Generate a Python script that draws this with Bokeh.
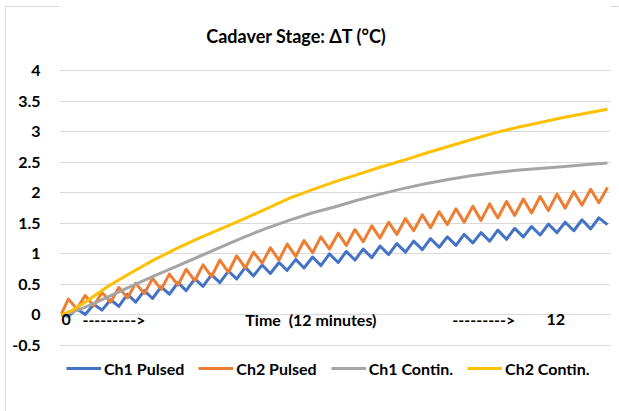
from bokeh.plotting import figure
from bokeh.models import FixedTicker, Label, Legend, LegendItem, Range1d
from bokeh.embed import file_html
from bokeh.resources import INLINE

# ---- data (time in minutes, values in °C) ----
pulse_t = [0.00, 0.15, 0.34, 0.52, 0.71, 0.89, 1.08, 1.26, 1.45, 1.63, 1.82, 2.00, 2.19, 2.37,
           2.56, 2.74, 2.93, 3.11, 3.30, 3.48, 3.67, 3.85, 4.04, 4.22, 4.41, 4.59, 4.78, 4.96,
           5.15, 5.33, 5.52, 5.70, 5.89, 6.08, 6.26, 6.45, 6.63, 6.82, 7.00, 7.19, 7.37, 7.56,
           7.74, 7.93, 8.11, 8.30, 8.48, 8.67, 8.85, 9.04, 9.22, 9.41, 9.59, 9.78, 9.96, 10.15,
           10.33, 10.52, 10.70, 10.89, 11.07, 11.26, 11.44, 11.63, 11.81, 12.00]

ch1_pulsed = [0.00, -0.02, 0.10, 0.01, 0.17, 0.08, 0.25, 0.14, 0.34, 0.21, 0.40, 0.27, 0.46,
              0.34, 0.53, 0.40, 0.59, 0.47, 0.66, 0.53, 0.72, 0.59, 0.78, 0.64, 0.82, 0.68,
              0.86, 0.73, 0.91, 0.77, 0.95, 0.81, 1.00, 0.86, 1.04, 0.90, 1.08, 0.94, 1.13,
              0.99, 1.17, 1.03, 1.21, 1.07, 1.25, 1.11, 1.28, 1.14, 1.32, 1.18, 1.35, 1.21,
              1.39, 1.24, 1.42, 1.28, 1.45, 1.31, 1.49, 1.35, 1.52, 1.38, 1.56, 1.41, 1.59, 1.48]

ch2_pulsed = [0.02, 0.26, 0.10, 0.32, 0.15, 0.37, 0.21, 0.45, 0.28, 0.52, 0.35, 0.60, 0.42,
              0.67, 0.49, 0.75, 0.56, 0.82, 0.63, 0.90, 0.70, 0.97, 0.77, 1.03, 0.85, 1.10,
              0.90, 1.16, 0.96, 1.22, 1.02, 1.28, 1.08, 1.34, 1.14, 1.40, 1.20, 1.46, 1.26,
              1.52, 1.32, 1.58, 1.38, 1.64, 1.43, 1.69, 1.48, 1.74, 1.52, 1.78, 1.55, 1.82,
              1.59, 1.86, 1.63, 1.90, 1.67, 1.94, 1.71, 1.98, 1.75, 2.02, 1.80, 2.06, 1.84, 2.09]

contin_t = [0, 0.25, 0.5, 1, 1.5, 2, 2.5, 3, 3.5, 4, 4.5, 5, 5.5, 6, 6.5, 7, 7.5, 8, 8.5, 9,
            9.5, 10, 10.5, 11, 11.5, 12]
ch1_contin = [0.00, 0.05, 0.12, 0.29, 0.46, 0.63, 0.79, 0.95, 1.11, 1.27, 1.42, 1.55, 1.67,
              1.77, 1.88, 1.98, 2.07, 2.15, 2.22, 2.28, 2.33, 2.37, 2.40, 2.43, 2.46, 2.49]
ch2_contin = [0.00, 0.08, 0.20, 0.46, 0.68, 0.89, 1.08, 1.25, 1.41, 1.57, 1.74, 1.91, 2.05,
              2.18, 2.30, 2.42, 2.53, 2.65, 2.76, 2.87, 2.98, 3.07, 3.15, 3.23, 3.30, 3.37]

series_names = ["Ch1 Pulsed", "Ch2 Pulsed", "Ch1 Contin.", "Ch2 Contin."]
series_colors = ["#4472C4", "#ED7D31", "#A5A5A5", "#FFC000"]

y_ticks = [-0.5, 0, 0.5, 1, 1.5, 2, 2.5, 3, 3.5, 4]
y_tick_labels = ["-0.5", "0", "0.5", "1", "1.5", "2", "2.5", "3", "3.5", "4"]

title_text = "Cadaver Stage: \u0394T (\u00b0C)"
x_texts = ["0", "--------->", "Time\u00a0 (12 minutes)", "--------->", "12"]
x_text_pos = [0.0, 0.46, 4.04, 8.59, 10.66]

FONT = "Lato"

p = figure(width=619, height=411, output_backend="svg", toolbar_location=None,
           x_range=Range1d(-0.044, 12.066), y_range=Range1d(-1.581, 5.152),
           x_axis_location=None,
           min_border_left=59, min_border_right=9, min_border_top=0, min_border_bottom=0)
p.outline_line_color = None
p.background_fill_color = "white"
p.border_fill_color = "white"
p.border_fill_alpha = 0
p.styles = {"box-shadow": "inset 5px 6px 0 0 #ffffff, inset 6px 7px 0 0 #d9d9d9"}

p.xgrid.grid_line_color = None
p.ygrid.grid_line_color = "#d9d9d9"
p.ygrid.grid_line_width = 1

ax = p.yaxis[0]
ax.ticker = FixedTicker(ticks=y_ticks)
ax.major_label_overrides = dict(zip(y_ticks, y_tick_labels))
ax.axis_line_color = None
ax.major_tick_line_color = None
ax.minor_tick_line_color = None
ax.major_label_standoff = 13
ax.major_label_text_font = FONT
ax.major_label_text_font_style = "bold"
ax.major_label_text_font_size = "16px"
ax.major_label_text_color = "black"

xs = [pulse_t, pulse_t, contin_t, contin_t]
ys = [ch1_pulsed, ch2_pulsed, ch1_contin, ch2_contin]
renderers = []
for x, y, c in zip(xs, ys, series_colors):
    r = p.line(x, y, line_color=c, line_width=3, line_join="round")
    renderers.append(r)

legend = Legend(items=[LegendItem(label=n, renderers=[r]) for n, r in zip(series_names, renderers)],
                orientation="horizontal", location=(7, 33), padding=0, margin=0, spacing=14,
                glyph_width=35, glyph_height=20, label_standoff=3, label_height=20,
                label_text_font=FONT, label_text_font_style="bold", label_text_font_size="16px",
                label_text_color="black", border_line_color=None, background_fill_alpha=0)
p.add_layout(legend, "center")

p.add_layout(Label(x=237, y=376, x_units="screen", y_units="screen", text=title_text,
                   text_align="center", text_baseline="middle", text_font=FONT,
                   text_font_style="bold", text_font_size="18px", text_color="black"))

for txt, xp in zip(x_texts, x_text_pos):
    p.add_layout(Label(x=xp, y=-0.08, text=txt, text_align="left", text_baseline="middle",
                       text_font=FONT, text_font_style="bold", text_font_size="16px",
                       text_color="black"))

open("out.html", "w").write(file_html(p, INLINE))
